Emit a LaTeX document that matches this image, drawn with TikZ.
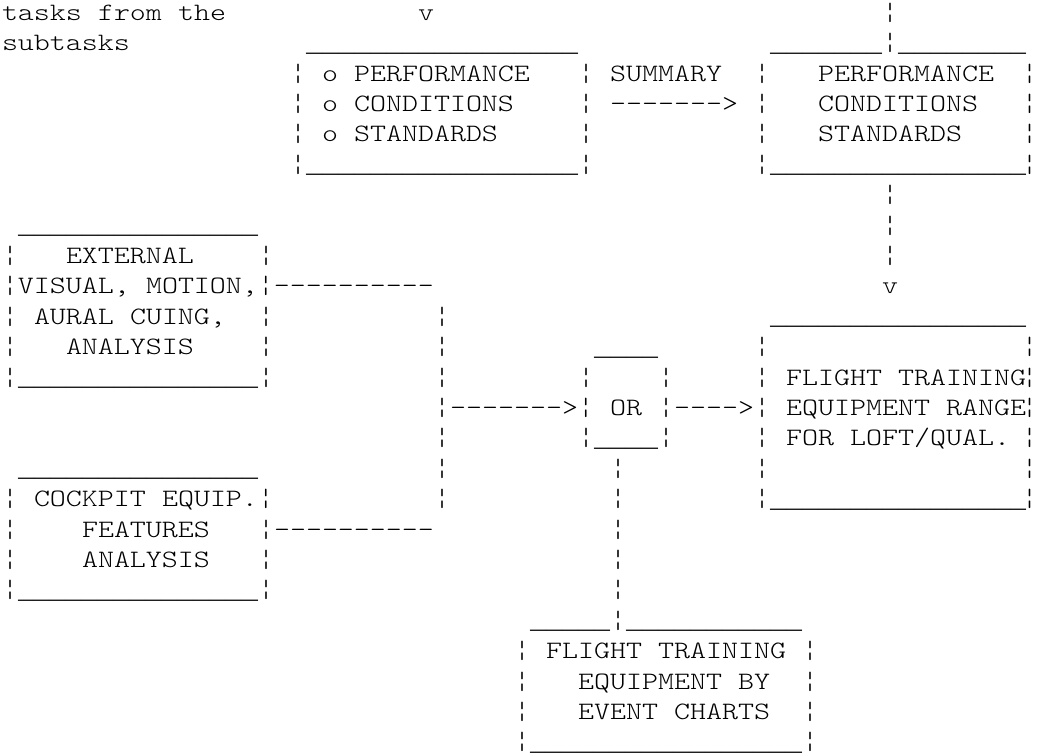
\documentclass[tikz,border=0pt]{standalone}
\usepackage{fontspec}
% typewriter face, widened so one character cell is 16pt
\newfontfamily\asciifont{lmmonolt10-regular.otf}[FakeStretch=1.219]
% face whose underscore fills the whole 16pt cell, for box edges
\newfontfamily\rulefont{Liberation Mono}

\ExplSyntaxOn
\NewDocumentCommand\underrun{m}{\prg_replicate:nn{#1}{\textunderscore}}
\ExplSyntaxOff

% character grid: column c starts at x = 2 + 16c, row r has its baseline at y = -(20.3 + 30.4r)
\newcount\tokc
\newcommand\tx[3]{%
  \global\advance\tokc by 1
  \node[txt] (t\the\tokc) at ({2+16*#2},{-20.3-30.4*#1}) {#3};}
% a single broken bar, centred in its cell
\newcommand\bx[2]{%
  \global\advance\tokc by 1
  \node[barglyph] (t\the\tokc) at ({10+16*#2},{-20.3-30.4*#1}) {\makebox[4pt]{¦}};}
% a broken bar in the last column, kept inside the right margin
\newcommand\rbx[1]{%
  \global\advance\tokc by 1
  \node[barglyph] (t\the\tokc) at (1029.5,{-20.3-30.4*#1}) {\makebox[4pt]{¦}};}
% a run of underscores
\newcommand\ux[3]{%
  \global\advance\tokc by 1
  \node[uline] (t\the\tokc) at ({2+16*#2},{-20.8-30.4*#1}) {\underrun{#3}};}

\tikzset{
  txt/.style={inner sep=0pt, outer sep=0pt, anchor=base west,
    font=\asciifont\fontsize{25}{25}\selectfont, text=black},
  barglyph/.style={txt, anchor=base},
  uline/.style={inner sep=0pt, outer sep=0pt, anchor=base west,
    font=\rulefont\fontsize{26.667}{26.667}\selectfont, text=black}
}

\begin{document}
\begin{tikzpicture}[x=1pt,y=1pt]
\useasboundingbox (0,0) rectangle (1038,-752);
\fill[white] (0,0) rectangle (1038,-752);

% row 0
\tx{0}{0}{tasks}\tx{0}{6}{from}\tx{0}{11}{the}\tx{0}{26}{v}\bx{0}{55}
% row 1
\tx{1}{0}{subtasks}\ux{1}{19}{17}
\ux{1}{48}{7}\bx{1}{55}\ux{1}{56}{8}
% rows 2-5: task summary boxes
\bx{2}{18}\tx{2}{20}{o}\tx{2}{22}{PERFORMANCE}\bx{2}{36}\tx{2}{38}{SUMMARY}
\bx{2}{47}\tx{2}{51}{PERFORMANCE}\rbx{2}
\bx{3}{18}\tx{3}{20}{o}\tx{3}{22}{CONDITIONS}\bx{3}{36}\tx{3}{38}{------->}
\bx{3}{47}\tx{3}{51}{CONDITIONS}\rbx{3}
\bx{4}{18}\tx{4}{20}{o}\tx{4}{22}{STANDARDS}\bx{4}{36}
\bx{4}{47}\tx{4}{51}{STANDARDS}\rbx{4}
\bx{5}{18}\ux{5}{19}{17}\bx{5}{36}
\bx{5}{47}\ux{5}{48}{16}\rbx{5}
% rows 6-9: down arrow on the right, external cuing box on the left
\bx{6}{55}
\ux{7}{1}{15}\bx{7}{55}
\bx{8}{0}\tx{8}{4}{EXTERNAL}\bx{8}{16}\bx{8}{55}
\tx{9}{0}{¦VISUAL,}\tx{9}{9}{MOTION,¦----------}\tx{9}{55}{v}
% rows 10-16: OR box and equipment range box
\bx{10}{0}\tx{10}{2}{AURAL}\tx{10}{8}{CUING,}\bx{10}{16}\bx{10}{27}
\ux{10}{48}{16}
\bx{11}{0}\tx{11}{4}{ANALYSIS}\bx{11}{16}\bx{11}{27}\ux{11}{37}{4}
\bx{11}{47}\rbx{11}
\bx{12}{0}\ux{12}{1}{15}\bx{12}{16}\bx{12}{27}
\bx{12}{36}\bx{12}{41}\bx{12}{47}\tx{12}{49}{FLIGHT}\tx{12}{56}{TRAINING}\rbx{12}
\tx{13}{27}{¦------->¦}\tx{13}{38}{OR}\tx{13}{41}{¦---->¦}
\tx{13}{49}{EQUIPMENT}\tx{13}{59}{RANGE}\rbx{13}
\bx{14}{27}\bx{14}{36}\ux{14}{37}{4}\bx{14}{41}
\bx{14}{47}\tx{14}{49}{FOR}\tx{14}{53}{LOFT/QUAL.}\rbx{14}
\ux{15}{1}{15}\bx{15}{27}\bx{15}{38}\bx{15}{47}\rbx{15}
\bx{16}{0}\tx{16}{2}{COCKPIT}\tx{16}{10}{EQUIP.¦}\bx{16}{27}\bx{16}{38}
\bx{16}{47}\ux{16}{48}{16}\rbx{16}
% rows 17-19: cockpit box
\bx{17}{0}\tx{17}{5}{FEATURES}\tx{17}{16}{¦----------}\bx{17}{38}
\bx{18}{0}\tx{18}{5}{ANALYSIS}\bx{18}{16}\bx{18}{38}
\bx{19}{0}\ux{19}{1}{15}\bx{19}{16}\bx{19}{38}
% rows 20-24: event chart box
\ux{20}{33}{5}\bx{20}{38}\ux{20}{39}{11}
\bx{21}{32}\tx{21}{34}{FLIGHT}\tx{21}{41}{TRAINING}\bx{21}{50}
\bx{22}{32}\tx{22}{36}{EQUIPMENT}\tx{22}{46}{BY}\bx{22}{50}
\bx{23}{32}\tx{23}{36}{EVENT}\tx{23}{42}{CHARTS}\bx{23}{50}
\bx{24}{32}\ux{24}{33}{17}\bx{24}{50}
\end{tikzpicture}
\end{document}
